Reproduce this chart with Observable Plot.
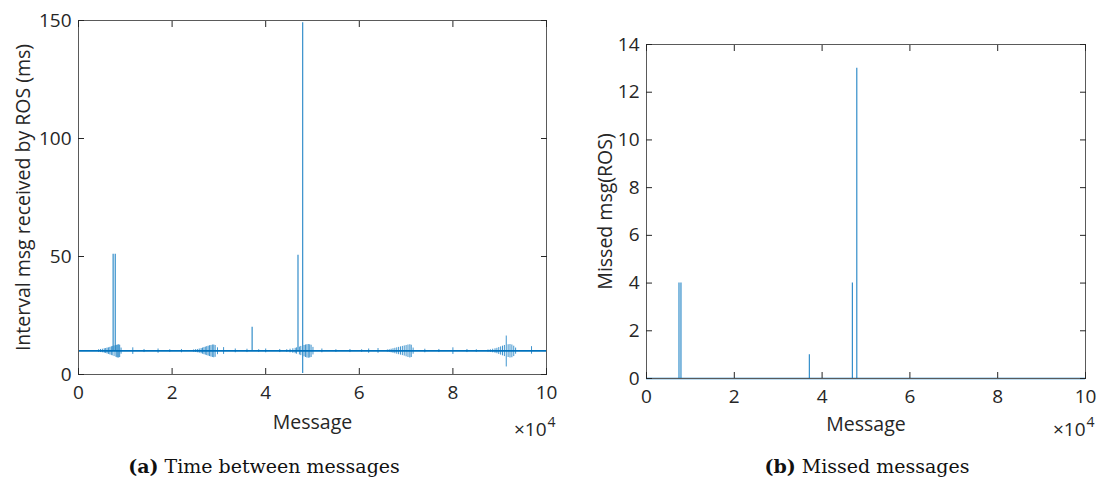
<!DOCTYPE html>
<html>
<head>
<meta charset="utf-8">
<script src="https://cdn.jsdelivr.net/npm/d3@7"></script>
<script src="https://cdn.jsdelivr.net/npm/@observablehq/plot@0.6"></script>
<style>
  body { margin: 0; background: #fff; }
  #fig { position: relative; width: 1098px; height: 479px; overflow: hidden; background: #fff; }
  .panel { position: absolute; top: 0; }
  .caption {
    position: absolute; top: 454px; transform: translateX(-50%);
    font-family: "DejaVu Serif", "Liberation Serif", serif; font-size: 19px;
    color: #111; white-space: nowrap; line-height: 24px;
  }
</style>
</head>
<body>
<div id="fig">
  <div class="panel" id="left" style="left:0px"></div>
  <div class="panel" id="right" style="left:560px"></div>
  <div class="caption" style="left:264px"><b>(a)</b> Time between messages</div>
  <div class="caption" style="left:867px"><b>(b)</b> Missed messages</div>
</div>
<script>
// Recording length and nominal publishing interval (100 Hz → 10 ms)
const messageCount = 100000;
const nominalInterval = 10;

// Axis ticks
const xTicks = [0, 20000, 40000, 60000, 80000, 100000];
const intervalTicks = [0, 50, 100, 150];
const missedTicks = [0, 2, 4, 6, 8, 10, 12, 14];

// Gaps caused by dropped messages: interval peak (ms) and number of messages missed
const gapMsg      = [7400, 7850, 37100, 46900, 47900];
const gapHigh     = [51, 51, 20, 50.5, 149];
const gapLow      = [10, 10, 10, 10, 0.4];
const missedCount = [4, 4, 1, 4, 13];

// Timing jitter around the nominal interval (message index, max ms, min ms)
const jitterMsg = [
  // burst near 0.8e4
  4300, 4700, 5100, 5500, 5800, 6100, 6400, 6700, 7000, 7200, 7600, 8000, 8200, 8400, 8600, 8800, 9100,
  // burst near 2.8e4
  24600, 25000, 25400, 25800, 26200, 26500, 26800, 27100, 27400, 27700, 28000, 28300, 28600, 28900, 29200, 29700,
  // burst near 4.8e4
  44500, 45200, 45800, 46300, 46600, 47200, 47500, 48200, 48500, 48800, 49100, 49400, 49700, 50100,
  // burst near 7e4
  66000, 66400, 66800, 67200, 67600, 68000, 68400, 68800, 69200, 69600, 70000, 70400, 70800, 71100, 71500,
  // burst near 9.1e4
  87500, 88000, 88500, 89000, 89400, 89800, 90200, 90600, 91000, 91400, 91800, 92200, 92600, 93000, 93400,
  // isolated hiccups
  11600, 14000, 17000, 19500, 22000, 31000, 33500, 36000, 38500, 40000, 43000, 52000, 55000, 58000,
  60500, 62000, 64000, 74000, 77000, 80000, 83000, 85000, 96800
];
const jitterHigh = [
  10.5, 10.6, 10.7, 10.9, 11.0, 11.2, 11.3, 11.5, 11.7, 11.9, 12.1, 12.3, 12.4, 12.5, 12.6, 12.4, 11.2,
  10.4, 10.5, 10.6, 10.8, 11.0, 11.2, 11.4, 11.6, 11.8, 12.0, 12.2, 12.3, 12.5, 12.5, 12.3, 11.3,
  10.5, 10.7, 10.9, 11.1, 11.3, 11.6, 11.9, 12.3, 12.5, 12.6, 12.7, 12.6, 12.4, 11.5,
  10.4, 10.5, 10.7, 10.9, 11.1, 11.3, 11.5, 11.7, 11.9, 12.1, 12.3, 12.5, 12.6, 12.4, 11.2,
  10.4, 10.5, 10.7, 10.9, 11.1, 11.4, 11.7, 12.0, 12.3, 16.3, 12.6, 12.7, 12.5, 12.0, 11.2,
  11.3, 10.6, 10.8, 10.5, 10.6, 11.4, 10.8, 10.7, 10.5, 10.8, 10.6, 10.8, 10.5, 10.6,
  10.5, 10.8, 11.0, 10.7, 10.6, 11.3, 10.6, 10.5, 11.8
];
const jitterLow = [
  9.4, 9.3, 9.2, 9.0, 8.9, 8.7, 8.5, 8.3, 8.1, 7.9, 7.6, 7.3, 7.1, 7.0, 7.0, 7.2, 8.6,
  9.5, 9.4, 9.2, 9.0, 8.8, 8.6, 8.4, 8.2, 8.0, 7.8, 7.6, 7.4, 7.2, 7.1, 7.3, 8.4,
  9.4, 9.2, 9.0, 8.8, 8.6, 8.3, 8.0, 7.5, 7.2, 7.0, 6.9, 7.0, 7.2, 8.3,
  9.5, 9.4, 9.2, 9.0, 8.8, 8.6, 8.4, 8.2, 8.0, 7.8, 7.5, 7.2, 7.0, 7.2, 8.6,
  9.5, 9.4, 9.2, 9.0, 8.8, 8.5, 8.2, 7.9, 7.6, 3.2, 7.2, 7.0, 7.1, 7.6, 8.6,
  8.5, 9.3, 9.0, 9.4, 9.2, 8.5, 9.2, 9.3, 9.4, 9.2, 9.3, 9.2, 9.4, 9.3,
  9.4, 9.0, 9.0, 9.2, 9.3, 8.5, 9.3, 9.4, 8.6
];

const blue = "#0072BD";
const axisColor = "#262626";
const sans = "'Open Sans', 'Liberation Sans', sans-serif";

const gaps = gapMsg.map((m, i) => ({message: m, high: gapHigh[i], low: gapLow[i], missed: missedCount[i]}));
const jitter = jitterMsg.map((m, i) => ({message: m, high: jitterHigh[i], low: jitterLow[i]}));

// Box axes with inward ticks on all four sides
function boxAxes(yTicks, xLabel, yLabel, opts) {
  const blank = () => "";
  return [
    Plot.frame({stroke: "#5a5a5a", strokeWidth: 1}),
    // tick labels
    Plot.axisX(xTicks, {anchor: "bottom", tickSize: 0, tickPadding: 11, tickFormat: d => d / 1e4,
      fontSize: 19, label: null, color: axisColor}),
    Plot.axisY(yTicks, {anchor: "left", tickSize: 0, tickPadding: 7, fontSize: 19, label: null, color: axisColor}),
    // axis titles
    Plot.axisX(xTicks, {anchor: "bottom", tickSize: 0, tickFormat: blank, fontSize: 19.5,
      label: xLabel, labelAnchor: "center", labelOffset: opts.xLabelOffset, labelArrow: "none", color: axisColor}),
    Plot.axisY(yTicks, {anchor: "left", tickSize: 0, tickFormat: blank, fontSize: 19.5,
      label: yLabel, labelAnchor: "center", labelOffset: opts.yLabelOffset, labelArrow: "none", color: axisColor}),
    // inward ticks
    Plot.axisX(xTicks, {anchor: "bottom", tickSize: 6, dy: -6, tickFormat: blank, label: null, stroke: axisColor}),
    Plot.axisX(xTicks, {anchor: "top", tickSize: 6, dy: 6, tickFormat: blank, label: null, stroke: axisColor}),
    Plot.axisY(yTicks, {anchor: "left", tickSize: 6, dx: 6, tickFormat: blank, label: null, stroke: axisColor}),
    Plot.axisY(yTicks, {anchor: "right", tickSize: 6, dx: -6, tickFormat: blank, label: null, stroke: axisColor}),
    // ×10^4 exponent label for the x axis
    Plot.text(["×10"], {frameAnchor: "bottom-right", textAnchor: "end", dx: 0, dy: opts.expDy, fontSize: 19, fill: axisColor}),
    Plot.text(["4"], {frameAnchor: "bottom-right", textAnchor: "start", dx: 1, dy: opts.expDy - 9, fontSize: 14, fill: axisColor})
  ];
}

// (a) Interval between messages received by ROS
const intervalChart = Plot.plot({
  width: 560, height: 440,
  marginLeft: 78, marginRight: 14, marginTop: 20, marginBottom: 66,
  style: {fontFamily: sans, fontSize: "18px", color: axisColor, background: "white", overflow: "visible"},
  x: {domain: [0, messageCount]},
  y: {domain: [0, 150]},
  marks: [
    Plot.ruleY([nominalInterval], {x1: 0, x2: messageCount, stroke: blue, strokeWidth: 1.6}),
    Plot.ruleX(jitter, {x: "message", y1: "low", y2: "high", stroke: blue, strokeOpacity: 0.75, strokeWidth: 1}),
    Plot.ruleX(gaps, {x: "message", y1: "low", y2: "high", stroke: blue, strokeOpacity: 0.8, strokeWidth: 1.2}),
    ...boxAxes(intervalTicks, "Message", "Interval msg received by ROS (ms)", {xLabelOffset: 54, yLabelOffset: 62, expDy: 61})
  ]
});

// (b) Number of messages missed
const missedChart = Plot.plot({
  width: 538, height: 440,
  marginLeft: 86, marginRight: 13, marginTop: 44, marginBottom: 62,
  style: {fontFamily: sans, fontSize: "18px", color: axisColor, background: "white", overflow: "visible"},
  x: {domain: [0, messageCount]},
  y: {domain: [0, 14]},
  marks: [
    Plot.ruleY([0], {x1: 0, x2: messageCount, stroke: blue, strokeWidth: 1.6}),
    Plot.ruleX(gaps, {x: "message", y1: 0, y2: "missed", stroke: blue, strokeOpacity: 0.8, strokeWidth: 1.2}),
    ...boxAxes(missedTicks, "Message", "Missed msg(ROS)", {xLabelOffset: 52, yLabelOffset: 48, expDy: 57})
  ]
});

document.getElementById("left").appendChild(intervalChart);
document.getElementById("right").appendChild(missedChart);
</script>
</body>
</html>
